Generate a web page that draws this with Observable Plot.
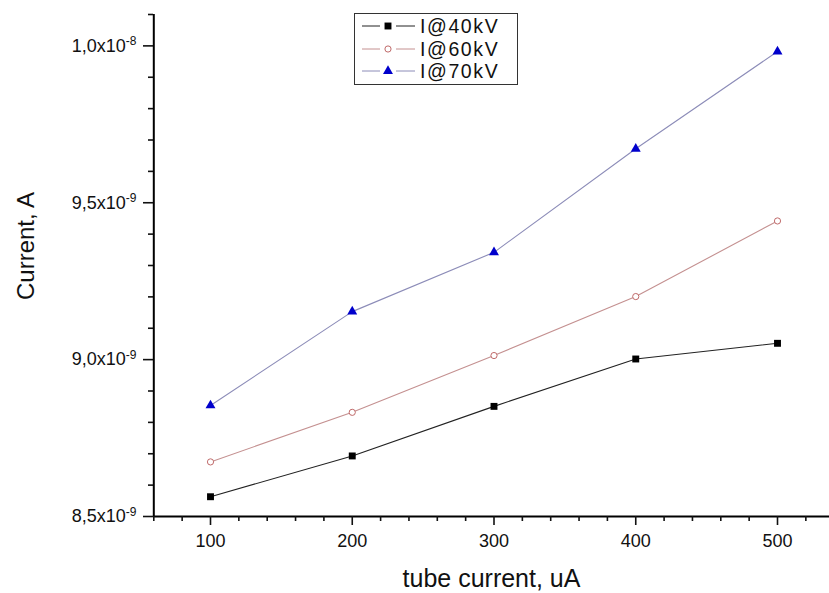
<!DOCTYPE html>
<html>
<head>
<meta charset="utf-8">
<script src="https://cdn.jsdelivr.net/npm/d3@7"></script>
<script src="https://cdn.jsdelivr.net/npm/@observablehq/plot@0.6"></script>
<style>
  html, body { margin: 0; padding: 0; background: #fff; }
  #wrap { position: relative; width: 829px; height: 593px; font-family: "Liberation Sans", Arial, sans-serif; }
  #legend { position: absolute; left: 354px; top: 13px; width: 162px; border: 1.5px solid #333; background: #fff; padding: 1px 0 1px 0; }
  .lrow { display: flex; align-items: center; height: 22.5px; }
  .lrow span { font-size: 19.5px; letter-spacing: 1.6px; color: #111; margin-left: 1px; line-height: 22.5px; font-family: "Liberation Sans", Arial, sans-serif; }
</style>
</head>
<body>
<div id="wrap"></div>
<script>
// ---- data ----
const tubeCurrent = [100, 200, 300, 400, 500];               // uA
const current40kV = [8.563e-9, 8.693e-9, 8.851e-9, 9.002e-9, 9.052e-9];
const current60kV = [8.674e-9, 8.832e-9, 9.013e-9, 9.201e-9, 9.442e-9];
const current70kV = [8.854e-9, 9.153e-9, 9.342e-9, 9.672e-9, 9.982e-9];
const seriesNames = ["I@40kV", "I@60kV", "I@70kV"];

const xMajorTicks = [100, 200, 300, 400, 500];
const xMinorTicks = [60, 80, 120, 140, 160, 180, 220, 240, 260, 280, 320, 340, 360, 380, 420, 440, 460, 480, 520, 540];
const yMajorTicks = [8.5e-9, 9.0e-9, 9.5e-9, 1.0e-8];
const yTickMantissa = ["8,5x10", "9,0x10", "9,5x10", "1,0x10"];
const yTickExponent = ["-9", "-9", "-9", "-8"];
const yMinorTicks = [8.6e-9, 8.7e-9, 8.8e-9, 8.9e-9, 9.1e-9, 9.2e-9, 9.3e-9, 9.4e-9, 9.6e-9, 9.7e-9, 9.8e-9, 9.9e-9, 1.01e-8];
const xTitle = "tube current, uA";
const yTitle = "Current, A";

const seriesStyle = {
  "I@40kV": {line: "#222222", symbol: "square", fill: "#000000", stroke: "none", r: 3.9},
  "I@60kV": {line: "#c49090", symbol: "circle", fill: "#ffffff", stroke: "#c06a6a", r: 3.1},
  "I@70kV": {line: "#8c8cb8", symbol: "triangle", fill: "#0000cc", stroke: "none", r: 3.7}
};

const seriesValues = [current40kV, current60kV, current70kV];
const rows = seriesNames.flatMap((s, i) => tubeCurrent.map((x, j) => ({series: s, x, y: seriesValues[i][j]})));

const font = "Liberation Sans, Arial, sans-serif";
const labelFor = new Map(yMajorTicks.map((v, i) => [v, yTickMantissa[i] + "|" + yTickExponent[i]]));

const marks = [];
// axis lines
marks.push(Plot.ruleX([60], {stroke: "#000", strokeWidth: 2}));
marks.push(Plot.ruleY([8.5e-9], {stroke: "#000", strokeWidth: 2}));
// minor ticks
marks.push(Plot.axisX(xMinorTicks, {tickSize: 5, tickFormat: () => "", label: null, strokeWidth: 1.6, stroke: "#111"}));
marks.push(Plot.axisY(yMinorTicks, {tickSize: 5, tickFormat: () => "", label: null, strokeWidth: 1.6, stroke: "#111"}));
// major ticks + labels
marks.push(Plot.axisX(xMajorTicks, {
  tickSize: 9, tickPadding: 9, fontSize: 18, strokeWidth: 1.6, stroke: "#111", fill: "#111",
  label: xTitle, labelAnchor: "center", labelOffset: 70, labelArrow: false
}));
marks.push(Plot.axisY(yMajorTicks, {
  tickSize: 10, tickPadding: 7, fontSize: 18, strokeWidth: 1.6, stroke: "#111", fill: "#111",
  tickFormat: d => labelFor.get(d) ?? "", label: null
}));
// series
for (const s of seriesNames) {
  const st = seriesStyle[s];
  const data = rows.filter(d => d.series === s);
  marks.push(Plot.line(data, {x: "x", y: "y", stroke: st.line, strokeWidth: 1.1}));
}
for (const s of seriesNames) {
  const st = seriesStyle[s];
  const data = rows.filter(d => d.series === s);
  marks.push(Plot.dot(data, {x: "x", y: "y", symbol: st.symbol, fill: st.fill, stroke: st.stroke, strokeWidth: 1, r: st.r}));
}

const chart = Plot.plot({
  width: 829,
  height: 593,
  marginTop: 14,
  marginBottom: 77,
  marginLeft: 153,
  marginRight: 0,
  style: {fontFamily: font, background: "#fff", color: "#111", overflow: "hidden"},
  x: {domain: [60, 540], range: [153.3, 833.7]},
  y: {domain: [8.5e-9, 1.01e-8], range: [516, 14]},
  marks
});

const root = d3.select(chart);
root.selectAll('g[aria-label="x-axis tick label"]').attr("font-size", 18);
root.selectAll('g[aria-label="y-axis tick label"]').attr("font-size", 18);
// superscripts on y tick labels
root.selectAll('g[aria-label="y-axis tick label"] text').each(function () {
  const t = d3.select(this);
  const txt = t.text();
  if (!txt.includes("|")) return;
  const [m, e] = txt.split("|");
  t.text(m);
  t.append("tspan").attr("dy", "-0.55em").attr("font-size", 12).text(e);
});
// x title size
root.selectAll('g[aria-label="x-axis label"]').attr("font-size", 25);
root.selectAll('g[aria-label="x-axis label"] text').attr("font-size", 25);
// y title as rotated text
root.append("text")
  .attr("transform", "translate(34,246) rotate(-90)")
  .attr("text-anchor", "middle")
  .attr("font-size", 24)
  .attr("font-family", font)
  .attr("fill", "#111")
  .text(yTitle);

const wrap = document.getElementById("wrap");
wrap.appendChild(chart);

// legend
const legend = document.createElement("div");
legend.id = "legend";
for (const s of seriesNames) {
  const st = seriesStyle[s];
  const row = document.createElement("div");
  row.className = "lrow";
  const sym = d3.symbol().type(st.symbol === "square" ? d3.symbolSquare : st.symbol === "circle" ? d3.symbolCircle : d3.symbolTriangle).size(Math.PI * st.r * st.r);
  const svg = d3.create("svg").attr("width", 64).attr("height", 22);
  svg.append("line").attr("x1", 7).attr("x2", 25).attr("y1", 11).attr("y2", 11).attr("stroke", st.line);
  svg.append("line").attr("x1", 41).attr("x2", 60).attr("y1", 11).attr("y2", 11).attr("stroke", st.line);
  svg.append("path").attr("d", sym()).attr("transform", "translate(33,11)").attr("fill", st.fill).attr("stroke", st.stroke);
  row.appendChild(svg.node());
  const label = document.createElement("span");
  label.textContent = s;
  row.appendChild(label);
  legend.appendChild(row);
}
wrap.appendChild(legend);
</script>
</body>
</html>
